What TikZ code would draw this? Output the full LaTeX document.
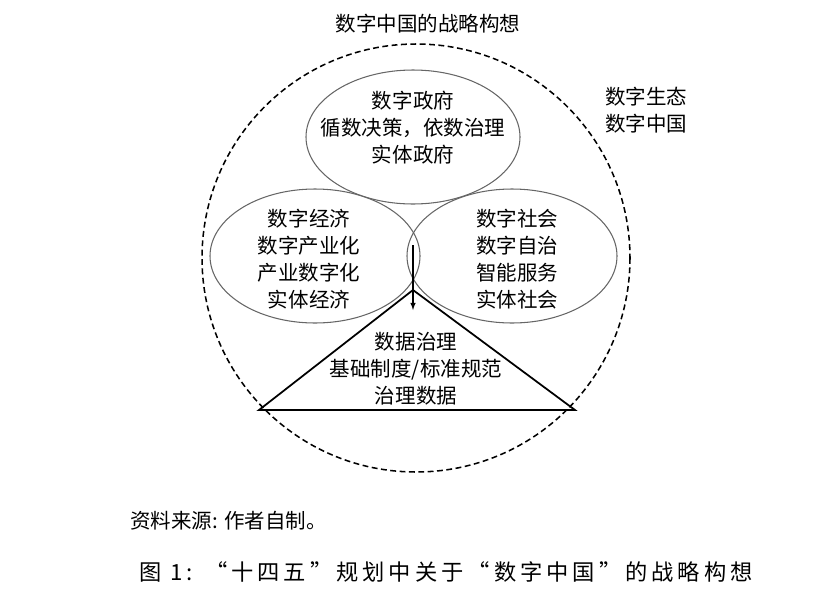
\documentclass[tikz,border=0pt]{standalone}
\usepackage{fontspec}
\newfontfamily\cjk{Noto Sans CJK SC}
\begin{document}
\begin{tikzpicture}[x=0.03cm,y=-0.03cm,
  t/.style={font=\cjk\fontsize{17.5}{23}\selectfont,align=center,inner sep=0pt},
  ell/.style={draw=black!60,line width=0.9pt}]
\useasboundingbox (0,0) rectangle (813,607);
\node[t] (title) at (428,24) {数字中国的战略构想};
\draw[dash pattern=on 5pt off 3pt,line width=1.3pt] (416,258) circle [radius=214];
\node[t] (eco) at (646,110) {数字生态\\数字中国};
\draw[ell] (413,137) ellipse [x radius=107,y radius=67];
\draw[ell] (315,256) ellipse [x radius=105,y radius=67];
\draw[ell] (512,256) ellipse [x radius=105,y radius=67];
\node[t] (gov) at (413,128) {数字政府\\循数决策，依数治理\\实体政府};
\node[t] (eco2) at (309,259) {数字经济\\数字产业化\\产业数字化\\实体经济};
\node[t] (soc) at (517,259) {数字社会\\数字自治\\智能服务\\实体社会};
\coordinate (apex) at (413,290);
\coordinate (bl) at (259,410);
\coordinate (br) at (575,410);
\draw[line width=1.5pt] (apex) -- (br) -- (bl) -- cycle;
\coordinate (as) at (413,245);
\coordinate (ae) at (413,310);
\draw[-latex,line width=1.1pt] (as) -- (ae);
\node[t] (dg) at (416,369) {数据治理\\基础制度/标准规范\\治理数据};
\node[t,anchor=west] (src) at (130,521) {资料来源: 作者自制。};
\node[t,font=\cjk\addfontfeature{LetterSpace=18}\fontsize{19}{22}\selectfont] (cap) at (446,572) {图 1: “十四五”规划中关于“数字中国”的战略构想};
\end{tikzpicture}
\end{document}
